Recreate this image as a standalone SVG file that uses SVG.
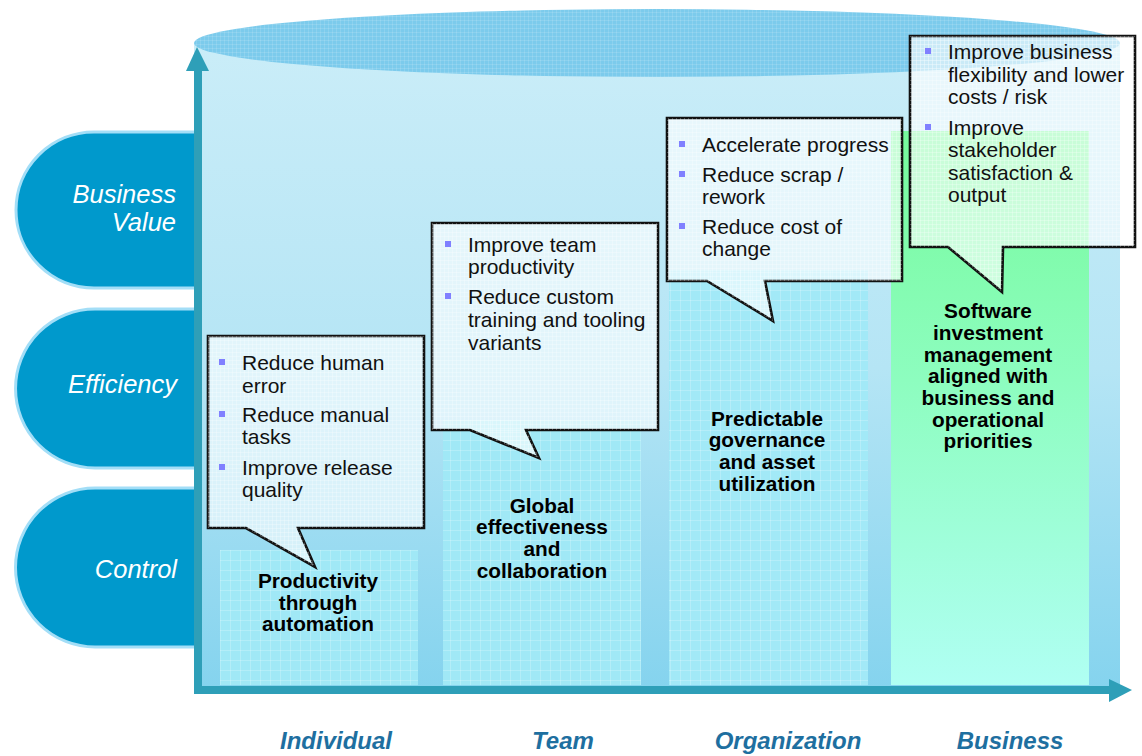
<svg xmlns="http://www.w3.org/2000/svg" width="1142" height="756" viewBox="0 0 1142 756">
<style>
.pill{fill:#0099cc;stroke:#a3def7;stroke-width:3}
.pl{font-family:"Liberation Sans",Arial,sans-serif;font-style:italic;font-size:25.5px;fill:#ffffff;text-anchor:end}
.co{fill:#ffffff;fill-opacity:0.6;stroke:#111111;stroke-width:2.6;stroke-linejoin:miter}
.cp{fill:url(#fine);stroke:none}
.bt{font-family:"Liberation Sans",Arial,sans-serif;font-size:21px;fill:#111111}
.bl{fill:#8080ff}
.lb{font-family:"Liberation Sans",Arial,sans-serif;font-weight:bold;font-size:20.8px;fill:#000000;text-anchor:middle}
.ax{font-family:"Liberation Sans",Arial,sans-serif;font-weight:bold;font-style:italic;font-size:24px;fill:#1e6fa0;text-anchor:middle}
.axis{fill:#2e9fb8}
</style>
<defs>
<linearGradient id="body" x1="0" y1="0" x2="0" y2="1">
<stop offset="0" stop-color="#caedf8"/>
<stop offset="0.5" stop-color="#b5e5f5"/>
<stop offset="1" stop-color="#84d3ee"/>
</linearGradient>
<linearGradient id="green" x1="0" y1="0" x2="0" y2="1">
<stop offset="0" stop-color="#76fa9c"/>
<stop offset="0.45" stop-color="#8dfdbf"/>
<stop offset="1" stop-color="#b0fff3"/>
</linearGradient>
<pattern id="grid" width="10" height="10" patternUnits="userSpaceOnUse">
<path d="M0 0.5H10M0.5 0V10" stroke="#ffffff" stroke-opacity="0.2" stroke-width="1" fill="none"/>
</pattern>
<pattern id="fine" width="4" height="4" patternUnits="userSpaceOnUse">
<path d="M0 0.5H4M0.5 0V4" stroke="#ffffff" stroke-opacity="0.25" stroke-width="1" fill="none"/>
</pattern>
<pattern id="efine" width="4" height="4" patternUnits="userSpaceOnUse">
<path d="M0 0.5H4M0.5 0V4" stroke="#ffffff" stroke-opacity="0.12" stroke-width="1" fill="none"/>
</pattern>
</defs>

<!-- Left pills -->
<g id="pill-business-value">
<path class="pill" d="M198 132 H94 A78 78 0 0 0 94 288 H198 Z"/>
<text class="pl" x="176" y="203">Business</text>
<text class="pl" x="176" y="231">Value</text>
</g>
<g id="pill-efficiency">
<path class="pill" d="M198 309 H95 A79.5 79.5 0 0 0 95 468 H198 Z"/>
<text class="pl" x="177" y="393">Efficiency</text>
</g>
<g id="pill-control">
<path class="pill" d="M198 488 H95 A79.5 79.5 0 0 0 95 647 H198 Z"/>
<text class="pl" x="177" y="578">Control</text>
</g>

<!-- Cylinder body -->
<g id="cylinder">
<rect x="194" y="43" width="926" height="650" fill="url(#body)"/>
<ellipse cx="657" cy="43" rx="463" ry="34" fill="#7ccbec"/>
<ellipse cx="657" cy="43" rx="463" ry="34" fill="url(#efine)"/>
</g>

<!-- Columns -->
<g id="col-individual">
<rect x="220" y="550" width="198" height="135" fill="#a0e8f6"/>
<rect x="220" y="550" width="198" height="135" fill="url(#grid)"/>
<text class="lb" x="318" y="588">Productivity</text>
<text class="lb" x="318" y="610">through</text>
<text class="lb" x="318" y="631">automation</text>
</g>
<g id="col-team">
<rect x="443" y="420" width="198" height="265" fill="#a0e8f6"/>
<rect x="443" y="420" width="198" height="265" fill="url(#grid)"/>
<text class="lb" x="542" y="513">Global</text>
<text class="lb" x="542" y="534">effectiveness</text>
<text class="lb" x="542" y="556">and</text>
<text class="lb" x="542" y="578">collaboration</text>
</g>
<g id="col-organization">
<rect x="669" y="270" width="199" height="415" fill="#a2e9f7"/>
<rect x="669" y="270" width="199" height="415" fill="url(#grid)"/>
<text class="lb" x="767" y="426">Predictable</text>
<text class="lb" x="767" y="447">governance</text>
<text class="lb" x="767" y="469">and asset</text>
<text class="lb" x="767" y="491">utilization</text>
</g>
<g id="col-business">
<rect x="891" y="131" width="198" height="554" fill="url(#green)"/>
<text class="lb" x="988" y="318">Software</text>
<text class="lb" x="988" y="340">investment</text>
<text class="lb" x="988" y="362">management</text>
<text class="lb" x="988" y="383">aligned with</text>
<text class="lb" x="988" y="405">business and</text>
<text class="lb" x="988" y="427">operational</text>
<text class="lb" x="988" y="448">priorities</text>
</g>

<!-- Axes -->
<g id="connectors">
<rect class="axis" x="194" y="70" width="8" height="624"/>
<polygon class="axis" points="186,71 197,47 209,71"/>
<rect class="axis" x="194" y="686" width="916" height="8"/>
<polygon class="axis" points="1109,679 1132,690 1109,702"/>
</g>

<!-- Callouts -->
<g id="callout-individual">
<path class="co" d="M208 336 H424 V528 H298 L315 567 L246 528 H208 Z"/>
<path class="cp" d="M208 336 H424 V528 H298 L315 567 L246 528 H208 Z"/>
<rect class="bl" x="219" y="359" width="6" height="6"/>
<text class="bt" x="242" y="370">Reduce human</text>
<text class="bt" x="242" y="393">error</text>
<rect class="bl" x="219" y="411" width="6" height="6"/>
<text class="bt" x="242" y="422">Reduce manual</text>
<text class="bt" x="242" y="444">tasks</text>
<rect class="bl" x="219" y="464" width="6" height="6"/>
<text class="bt" x="242" y="475">Improve release</text>
<text class="bt" x="242" y="497">quality</text>
</g>
<g id="callout-team">
<path class="co" d="M432 223 H658 V430 H526 L539 458 L470 430 H432 Z"/>
<path class="cp" d="M432 223 H658 V430 H526 L539 458 L470 430 H432 Z"/>
<rect class="bl" x="445" y="241" width="6" height="6"/>
<text class="bt" x="468" y="252">Improve team</text>
<text class="bt" x="468" y="274">productivity</text>
<rect class="bl" x="445" y="293" width="6" height="6"/>
<text class="bt" x="468" y="304">Reduce custom</text>
<text class="bt" x="468" y="327">training and tooling</text>
<text class="bt" x="468" y="350">variants</text>
</g>
<g id="callout-organization">
<path class="co" d="M667 118 H902 V281 H765 L773 321 L707 281 H667 Z"/>
<path class="cp" d="M667 118 H902 V281 H765 L773 321 L707 281 H667 Z"/>
<rect class="bl" x="679" y="141" width="6" height="6"/>
<text class="bt" x="702" y="152">Accelerate progress</text>
<rect class="bl" x="679" y="171" width="6" height="6"/>
<text class="bt" x="702" y="182">Reduce scrap /</text>
<text class="bt" x="702" y="204">rework</text>
<rect class="bl" x="679" y="223" width="6" height="6"/>
<text class="bt" x="702" y="234">Reduce cost of</text>
<text class="bt" x="702" y="256">change</text>
</g>
<g id="callout-business">
<path class="co" d="M910 36 H1135 V247 H1003 L1002 292 L948 247 H910 Z"/>
<path class="cp" d="M910 36 H1135 V247 H1003 L1002 292 L948 247 H910 Z"/>
<rect class="bl" x="925" y="48" width="6" height="6"/>
<text class="bt" x="948" y="59">Improve business</text>
<text class="bt" x="948" y="82">flexibility and lower</text>
<text class="bt" x="948" y="104">costs / risk</text>
<rect class="bl" x="925" y="124" width="6" height="6"/>
<text class="bt" x="948" y="135">Improve</text>
<text class="bt" x="948" y="157">stakeholder</text>
<text class="bt" x="948" y="180">satisfaction &amp;</text>
<text class="bt" x="948" y="202">output</text>
</g>

<!-- Axis labels -->
<g id="axis-labels">
<text class="ax" x="336" y="749">Individual</text>
<text class="ax" x="563" y="749">Team</text>
<text class="ax" x="788" y="749">Organization</text>
<text class="ax" x="1010" y="749">Business</text>
</g>
</svg>
